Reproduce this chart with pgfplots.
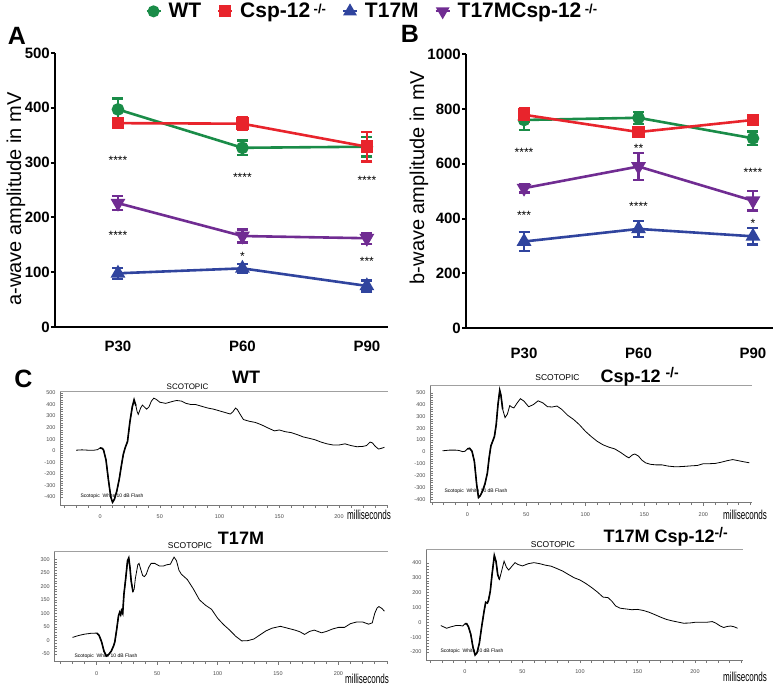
\documentclass[border=0pt]{standalone}
\usepackage{pgfplots}
\pgfplotsset{compat=1.18}
\usepackage{pgfplotstable}
\usepackage{graphicx}
\usepackage{fontspec}
\setmainfont{Liberation Sans}

\definecolor{cwt}{RGB}{26,140,72}
\definecolor{ccsp}{RGB}{232,36,44}
\definecolor{ct17}{RGB}{48,68,158}
\definecolor{cdbl}{RGB}{112,44,146}
\definecolor{axg}{RGB}{120,120,120}

\pgfplotstableread{
ms v
-20 5
-15 8
-10 5
-5 5
-2 10
0 25
2 20
3 5
5 -80
7 -250
9 -400
10.5 -445
12 -420
14 -350
16 -250
18 -120
19.5 -30
21 25
23 80
25 250
27 380
28.5 440
30 390
31 340
32 315
34 370
35.5 395
37 380
39 360
41 380
43 430
45 455
47 445
50 420
55 410
60 425
64 435
68 430
72 410
76 400
80 400
85 385
90 370
95 360
100 345
105 330
109 318
111 335
113.5 370
115 355
117 320
120 270
125 255
130 245
135 225
140 200
146 172
150 180
155 165
160 157
165 140
170 120
175 108
180 95
185 75
190 60
195 50
200 50
205 60
210 45
215 35
220 38
223 45
226 75
228 68
230 42
233 15
235 20
238 30
}\wtdata

\pgfplotstableread{
ms v
-21 9
-15 15
-10 15
-7 12
-4 2
-2 5
0 25
2 30
4 5
6 -80
8 -280
9.5 -385
11 -370
13 -330
15 -270
17 -180
18.5 -50
20 50
21.5 90
23 130
24.5 230
26 400
27.5 520
28.5 480
30 360
32 290
34 320
36 392
37.5 380
39.5 372
42 410
45 450
48 430
52 382
56 400
60 432
64 415
68 382
72 380
76 388
80 360
85 310
90 275
95 230
100 175
105 130
110 90
115 60
120 40
125 25
130 -5
135 -40
137 -50
140 -25
142 -18
145 -35
148 -70
151 -92
155 -105
160 -110
165 -110
170 -120
175 -125
180 -125
185 -122
190 -118
195 -115
200 -100
205 -100
210 -98
215 -88
220 -75
225 -65
230 -75
235 -85
239 -92
}\cspdata

\pgfplotstableread{
ms v
-20 11
-15 18
-10 23
-5 26
0 27
2 18
4 -5
6 -40
8 -58
10 -52
12 -40
14 -20
15 -5
16.5 40
18 90
19 104
19.8 95
20.5 110
21.5 100
22.5 170
24 230
25.5 295
26.5 305
27.5 270
28.5 220
30 180
31 190
32 230
34 280
35 285
36.5 262
38 240
39.5 236
41 245
43 270
45 285
48 285
52 275
55 275
58 280
61 282
63 300
64 308
66 295
68 260
70 245
75 225
80 190
85 150
90 130
95 115
100 82
105 58
110 38
115 15
120 -2
125 -1
130 5
135 20
140 35
145 45
152 52
158 45
164 38
168 32
172 22
176 33
180 38
186 28
190 33
195 42
200 48
205 48
210 62
215 68
220 68
225 60
228 65
230 100
232 120
233.5 125
236 118
238 108
}\tdata

\pgfplotstableread{
ms v
-21 -22
-16 -40
-12 -30
-8 -22
-4 -22
-2 -25
0 -10
1.5 -10
3 -30
5 -80
7 -170
8.8 -220
10.5 -205
12.5 -140
14.5 -30
16.5 70
18 135
19.5 130
20.5 150
22 210
23.5 320
25.5 450
27 410
28.5 320
30 290
32 350
34 412
36 372
38 352
40.5 375
43.5 402
46 390
50 380
55 395
60 402
65 395
70 385
75 378
80 362
85 345
90 322
95 300
100 285
105 262
110 235
115 205
120 170
124.5 166
128 140
131 110
135 95
140 90
145 85
150 87
155 80
160 68
165 52
170 35
175 20
180 10
185 2
190 -6
195 -5
200 0
205 0
210 0
215 5
218 -5
222 -25
225 -35
228 -28
231 -25
234 -30
237 -40
}\tcdata

\pgfplotsset{
  /pgf/number format/assume math mode=true,
  /pgf/number format/1000 sep={},
  summ/.style={scale only axis, anchor=south west, clip=false,
    axis x line=bottom, axis y line=left,
    axis line style={line width=2.6pt,-},
    xtick={0,1,2}, xticklabels={P30,P60,P90},
    x tick style={draw=none},
    y tick style={line width=2pt,black},
    tick align=outside, major tick length=4pt,
    ticklabel style={font=\fontsize{15}{15}\selectfont\bfseries},
    yticklabel style={inner sep=1pt},
    ylabel style={font=\fontsize{20}{20}\selectfont, anchor=center},
    every axis plot/.append style={line width=2.6pt},
    error bars/y dir=both, error bars/y explicit,
    error bars/error bar style={line width=2.4pt},
    error bars/error mark options={rotate=90, mark size=5.5pt, line width=2.4pt},
  },
  erg/.style={scale only axis, anchor=south west, clip=false,
    axis x line=bottom, axis y line=left,
    axis line style={axg, line width=0.6pt,-},
    tick style={axg, line width=0.5pt},
    xtick={0,50,...,200}, minor xtick={-30,-20,...,240},
    xtick align=outside, ytick align=inside,
    major tick length=3pt, minor tick length=2.5pt,
    minor y tick num=4,
    x tick label style={font=\fontsize{5.5}{5.5}\selectfont, text=black!70, yshift=-3pt},
    y tick label style={font=\fontsize{5.5}{5.5}\selectfont, text=black!70, xshift=-1pt},
  },
  trace/.style={black, line width=0.8pt, no marks},
  tracethick/.style={black, line width=1.6pt, no marks, restrict x to domain=-0.5:30},
}

\newcommand{\stars}[1]{{\fontsize{12}{12}\selectfont #1}}
\newcommand{\ko}{\raisebox{4pt}{\fontsize{13}{13}\selectfont -/-}}

\begin{document}
\begin{tikzpicture}[x=1pt,y=1pt]
\useasboundingbox (0,0) rectangle (775,685);

% ---------- Panel A ----------
\begin{axis}[summ, at={(55pt,358pt)}, width=333pt, height=274pt,
  xmin=-0.506, xmax=2.17, ymin=0, ymax=500, ytick={0,100,...,500},
  x tick label style={yshift=-6pt},
  ylabel={a-wave amplitude in mV},
  ylabel style={at={(rel axis cs:-0.117,0.467)}},
  legend style={at={(0.953,1.152)}, anchor=center, draw=none, fill=none,
    legend columns=4, font=\fontsize{21}{21}\selectfont\bfseries,
    /tikz/every odd column/.append style={column sep=5pt},
    /tikz/every even column/.append style={column sep=14pt}},
  legend image code/.code={\draw[mark repeat=2,mark phase=2,#1,line width=2pt] plot coordinates {(0pt,0pt)(7pt,0pt)(14pt,0pt)};},
]
\addplot[cwt, mark=*, mark size=5pt] coordinates {(0,397) +- (0,20) (1,327) +- (0,13) (2,329) +- (0,18)};
\addlegendentry{WT}
\addplot[ccsp, mark=square*, mark size=5pt] coordinates {(0,372) +- (0,7) (1,371) +- (0,12) (2,329) +- (0,27)};
\addlegendentry{Csp-12\,\ko}
\addplot[ct17, mark=triangle*, mark size=6pt] coordinates {(0,98) +- (0,10) (1,107) +- (0,8) (2,75) +- (0,10)};
\addlegendentry{T17M}
\addplot[cdbl, mark=triangle*, mark size=6pt, mark options={rotate=180}] coordinates {(0,226) +- (0,13) (1,166) +- (0,12) (2,162) +- (0,10)};
\addlegendentry{T17MCsp-12\,\ko}
\node[yshift=-3pt] at (axis cs:0,310) {\stars{****}};
\node[yshift=-3pt] at (axis cs:1,278) {\stars{****}};
\node[yshift=-3pt] at (axis cs:2,273) {\stars{****}};
\node[yshift=-3pt] at (axis cs:0,172) {\stars{****}};
\node[yshift=-3pt] at (axis cs:1,134) {\stars{*}};
\node[yshift=-3pt] at (axis cs:2,126) {\stars{***}};
\end{axis}

% ---------- Panel B ----------
\begin{axis}[summ, at={(466pt,357pt)}, width=307pt, height=273.7pt,
  xmin=-0.507, xmax=2.175, ymin=0, ymax=1000, ytick={0,200,...,1000},
  x tick label style={yshift=-12pt},
  ylabel={b-wave amplitude in mV},
  ylabel style={at={(rel axis cs:-0.153,0.55)}},
]
\addplot[cwt, mark=*, mark size=5pt] coordinates {(0,760) +- (0,36) (1,768) +- (0,22) (2,693) +- (0,25)};
\addplot[ccsp, mark=square*, mark size=5pt] coordinates {(0,779) +- (0,24) (1,716) +- (0,15) (2,760) +- (0,10)};
\addplot[ct17, mark=triangle*, mark size=6pt] coordinates {(0,316) +- (0,35) (1,362) +- (0,30) (2,335) +- (0,30)};
\addplot[cdbl, mark=triangle*, mark size=6pt, mark options={rotate=180}] coordinates {(0,511) +- (0,16) (1,590) +- (0,50) (2,465) +- (0,35)};
\node[yshift=-3pt] at (axis cs:0,653) {\stars{****}};
\node[yshift=-3pt] at (axis cs:1,669) {\stars{**}};
\node[yshift=-3pt] at (axis cs:2,578) {\stars{****}};
\node[yshift=-3pt] at (axis cs:0,422) {\stars{***}};
\node[yshift=-3pt] at (axis cs:1,454) {\stars{****}};
\node[yshift=-3pt] at (axis cs:2,395) {\stars{*}};
\end{axis}

% ---------- Panel C: WT ----------
\begin{axis}[erg, at={(60pt,180pt)}, width=328pt, height=114pt,
  xmin=-33.5, xmax=241, ymin=-469, ymax=517, ytick={-400,-300,...,500}]
\draw[axg!70, line width=0.6pt] (rel axis cs:0,1) -- (rel axis cs:1,1);
\addplot[trace] table[x=ms,y=v] {\wtdata};
\addplot[tracethick] table[x=ms,y=v] {\wtdata};
\end{axis}

% ---------- Panel C: Csp-12 ----------
\begin{axis}[erg, at={(430pt,182.3pt)}, width=322pt, height=117.7pt,
  xmin=-31.6, xmax=241.3, ymin=-430, ymax=566, ytick={-400,-300,...,500}]
\draw[axg!70, line width=0.6pt] (rel axis cs:0,1) -- (rel axis cs:1,1);
\addplot[trace] table[x=ms,y=v] {\cspdata};
\addplot[tracethick] table[x=ms,y=v] {\cspdata};
\end{axis}

% ---------- Panel C: T17M ----------
\begin{axis}[erg, at={(54.3pt,23.3pt)}, width=333.7pt, height=110.2pt,
  xmin=-35.1, xmax=241, ymin=-79, ymax=329, ytick={-50,0,...,300}]
\draw[axg!70, line width=0.6pt] (rel axis cs:0,1) -- (rel axis cs:1,1);
\addplot[trace] table[x=ms,y=v] {\tdata};
\addplot[tracethick] table[x=ms,y=v] {\tdata};
\end{axis}

% ---------- Panel C: T17M Csp-12 ----------
\begin{axis}[erg, at={(426pt,25pt)}, width=316.7pt, height=111pt,
  xmin=-33.9, xmax=241.5, ymin=-254, ymax=494, ytick={-200,-100,...,400}]
\draw[axg!70, line width=0.6pt] (rel axis cs:0,1) -- (rel axis cs:1,1);
\addplot[trace] table[x=ms,y=v] {\tcdata};
\addplot[tracethick] table[x=ms,y=v] {\tcdata};
\end{axis}

% ---------- Texts ----------
\node[font=\fontsize{25}{25}\selectfont\bfseries] at (17,649) {A};
\node[font=\fontsize{25}{25}\selectfont\bfseries] at (410,651) {B};
\node[font=\fontsize{25}{25}\selectfont\bfseries] at (23.5,306.5) {C};

\node[font=\fontsize{8}{8}\selectfont] at (187.5,298) {SCOTOPIC};
\node[font=\fontsize{18}{18}\selectfont\bfseries] at (246,308) {WT};
\node at (369,170) {\scalebox{0.62}[1]{\fontsize{13}{13}\selectfont milliseconds}};
\node[font=\fontsize{5}{5}\selectfont] at (112,189) {Scotopic\ \ White 10 dB Flash};

\node[font=\fontsize{8.5}{8.5}\selectfont] at (557.5,307) {SCOTOPIC};
\node[font=\fontsize{18}{18}\selectfont\bfseries, anchor=west] at (597,308) {Csp-12 \raisebox{5pt}{\fontsize{14}{14}\selectfont -/-}};
\node at (745,170) {\scalebox{0.62}[1]{\fontsize{13}{13}\selectfont milliseconds}};
\node[font=\fontsize{5}{5}\selectfont] at (476,193.3) {Scotopic\ \ White 10 dB Flash};

\node[font=\fontsize{8.5}{8.5}\selectfont] at (190,139.3) {SCOTOPIC};
\node[font=\fontsize{18}{18}\selectfont\bfseries] at (241,147) {T17M};
\node at (367,6) {\scalebox{0.62}[1]{\fontsize{13}{13}\selectfont milliseconds}};
\node[font=\fontsize{5}{5}\selectfont] at (106,29) {Scotopic\ \ White 10 dB Flash};

\node[font=\fontsize{8.5}{8.5}\selectfont] at (553,140) {SCOTOPIC};
\node[font=\fontsize{18}{18}\selectfont\bfseries, anchor=west] at (600,148.3) {T17M Csp-12\raisebox{5pt}{\fontsize{14}{14}\selectfont -/-}};
\node at (745,8.3) {\scalebox{0.62}[1]{\fontsize{13}{13}\selectfont milliseconds}};
\node[font=\fontsize{5}{5}\selectfont] at (472,33.3) {Scotopic\ \ White 10 dB Flash};
\end{tikzpicture}
\end{document}
